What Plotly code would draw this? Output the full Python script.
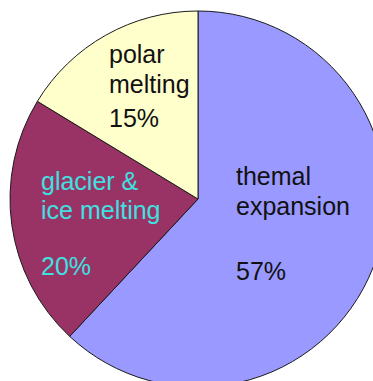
import plotly.graph_objects as go

# Contributions to sea level rise
categories = ["themal expansion", "glacier & ice melting", "polar melting"]
values = [57, 20, 15]
slice_colors = ["#9999FF", "#993366", "#FFFFCC"]
text_colors = ["#111111", "#40E0E0", "#111111"]

# label lines for each slice (category name split over two lines)
name_lines = [["themal", "expansion"], ["glacier &", "ice melting"], ["polar", "melting"]]

# canvas is slightly larger than the viewport so the pie runs off the right/bottom edges
W, H = 390, 395
cx, cy, r = 198, 199, 188  # pixel centre (from top-left) and radius

fig = go.Figure(
    go.Pie(
        labels=categories,
        values=values,
        sort=False,
        direction="clockwise",
        rotation=0,
        marker=dict(colors=slice_colors, line=dict(color="#1a1a1a", width=1)),
        textinfo="none",
        hoverinfo="label+value",
        showlegend=False,
        domain=dict(
            x=[(cx - r) / W, (cx + r) / W],
            y=[(H - cy - r) / H, (H - cy + r) / H],
        ),
    )
)

# pixel placement (left x, baselines) of the label blocks: name line 1, name line 2, percent
label_pos = [
    (235, [185, 215, 280]),
    (40, [190, 219, 275]),
    (108, [63, 93, 127]),
]

FS = 25
annotations = []
for i, (x0, baselines) in enumerate(label_pos):
    lines = name_lines[i] + [f"{values[i]}%"]
    for text, base in zip(lines, baselines):
        mid = base - 0.35 * FS
        annotations.append(
            dict(
                text=text,
                x=x0 / W,
                y=(H - mid) / H,
                xref="paper",
                yref="paper",
                xanchor="left",
                yanchor="middle",
                showarrow=False,
                font=dict(family="Liberation Sans, Arial, sans-serif", size=FS, color=text_colors[i]),
                borderpad=0,
            )
        )

fig.update_layout(
    width=W,
    height=H,
    margin=dict(l=0, r=0, t=0, b=0),
    paper_bgcolor="white",
    plot_bgcolor="white",
    annotations=annotations,
)

fig.write_html(
    "out.html",
    config={"displayModeBar": False, "responsive": False},
    post_script=(
        "document.body.style.margin='0';"
        "document.body.style.overflow='hidden';"
        "document.documentElement.style.overflow='hidden';"
    ),
)
